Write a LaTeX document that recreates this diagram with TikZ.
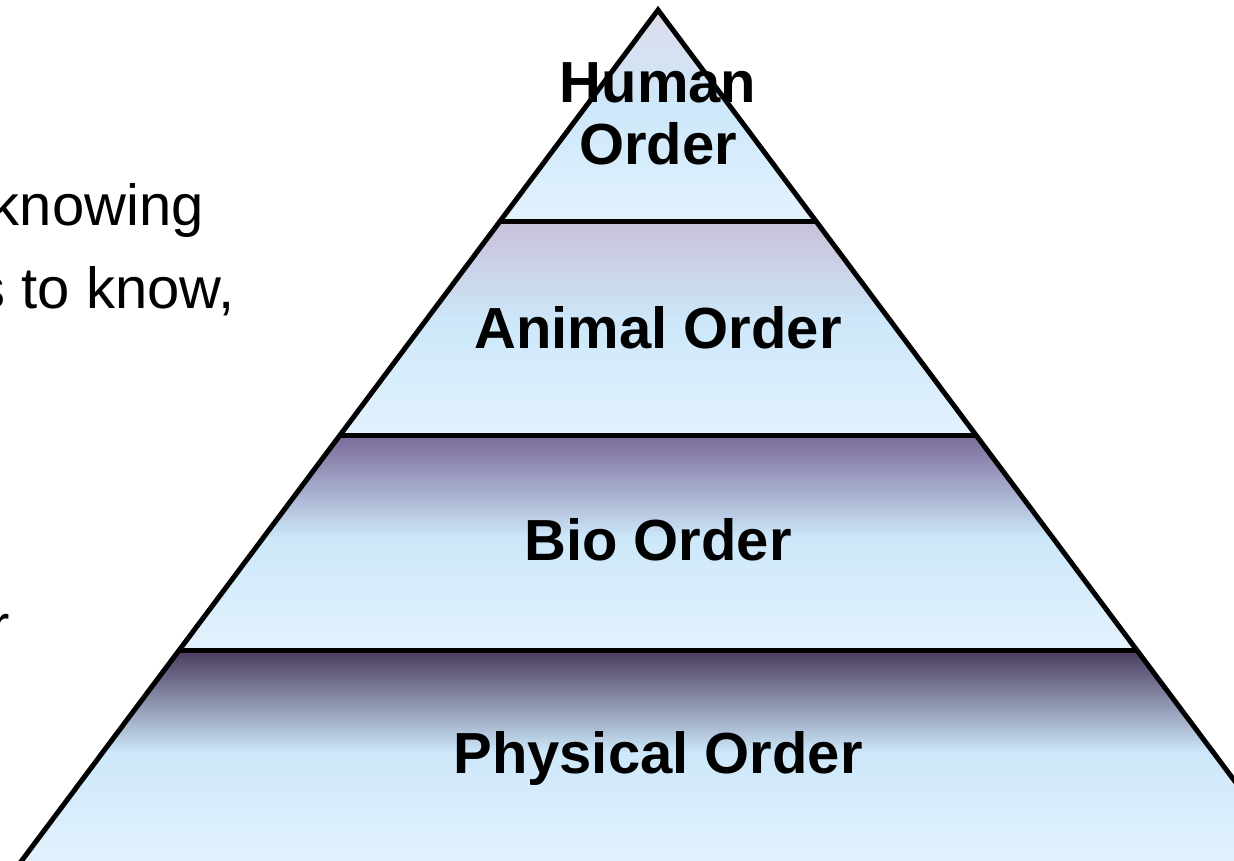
\documentclass[tikz,border=0pt]{standalone}
\usepackage{fontspec}
\setmainfont{Liberation Sans}
\usepackage{tikz}
\pgfdeclarelayer{background}
\pgfdeclarelayer{foreground}
\pgfsetlayers{background,main,foreground}
\definecolor{bandlow}{HTML}{E3F2FD}
\definecolor{bandmid}{HTML}{CDE8FA}
\definecolor{humantop}{HTML}{DCDCEB}
\definecolor{animaltop}{HTML}{C8C0D8}
\definecolor{biotop}{HTML}{7A6A98}
\definecolor{physicaltop}{HTML}{4A3A5E}
\colorlet{bandtop}{humantop}
\pgfdeclareverticalshading[bandtop,bandmid,bandlow]{band}{100bp}{color(0bp)=(bandlow); color(25bp)=(bandlow); color(51bp)=(bandmid); color(75bp)=(bandtop); color(100bp)=(bandtop)}
\tikzset{
  layer/.style={shading=band, draw=none},
  rim/.style={line width=0.1cm, line join=miter},
  order/.style={font=\fontsize{33}{35.3}\selectfont\bfseries, inner sep=0pt, align=center},
  cuttext/.style={font=\fontsize{33}{40}\selectfont, inner sep=0pt, anchor=base east}
}

\begin{document}
\begin{tikzpicture}[x=0.02cm,y=-0.02cm]
\useasboundingbox (0,0) rectangle (1234,860);
\clip (0,0) rectangle (1234,860);
\coordinate (apex) at (658,10);
\coordinate (hl) at (500.2,221);
\coordinate (hr) at (815.8,221);
\coordinate (al) at (340.1,435);
\coordinate (ar) at (975.9,435);
\coordinate (bl) at (179.3,650);
\coordinate (br) at (1136.7,650);
\coordinate (pl) at (19.2,864);
\coordinate (pr) at (1296.8,864);
\begin{pgfonlayer}{background}
\clip (0,0) rectangle (1234,860);
\colorlet{bandtop}{humantop}
\fill[layer] (apex) -- (hr) -- (hl) -- cycle;
\colorlet{bandtop}{animaltop}
\fill[layer] (hl) -- (hr) -- (ar) -- (al) -- cycle;
\colorlet{bandtop}{biotop}
\fill[layer] (al) -- (ar) -- (br) -- (bl) -- cycle;
\colorlet{bandtop}{physicaltop}
\fill[layer] (bl) -- (br) -- (pr) -- (pl) -- cycle;
\end{pgfonlayer}
\draw[rim] (pl) -- (apex) -- (pr);
\draw[rim] (hl) -- (hr);
\draw[rim] (al) -- (ar);
\draw[rim] (bl) -- (br);
\begin{pgfonlayer}{foreground}
\clip (0,0) rectangle (1234,860);
\node[order, anchor=north] (human) at (658,62) {Human\\Order};
\node[order, anchor=base] (animal) at (658,348) {Animal Order};
\node[order, anchor=base] (bio) at (658,560) {Bio Order};
\node[order, anchor=base] (physical) at (658,773) {Physical Order};
\node[cuttext] (knowing) at (204,225) {knowing};
\node[cuttext] (toknow) at (235,308) {s to know,};
\node[cuttext] (rfrag) at (10,645) {r};
\end{pgfonlayer}
\end{tikzpicture}
\end{document}
